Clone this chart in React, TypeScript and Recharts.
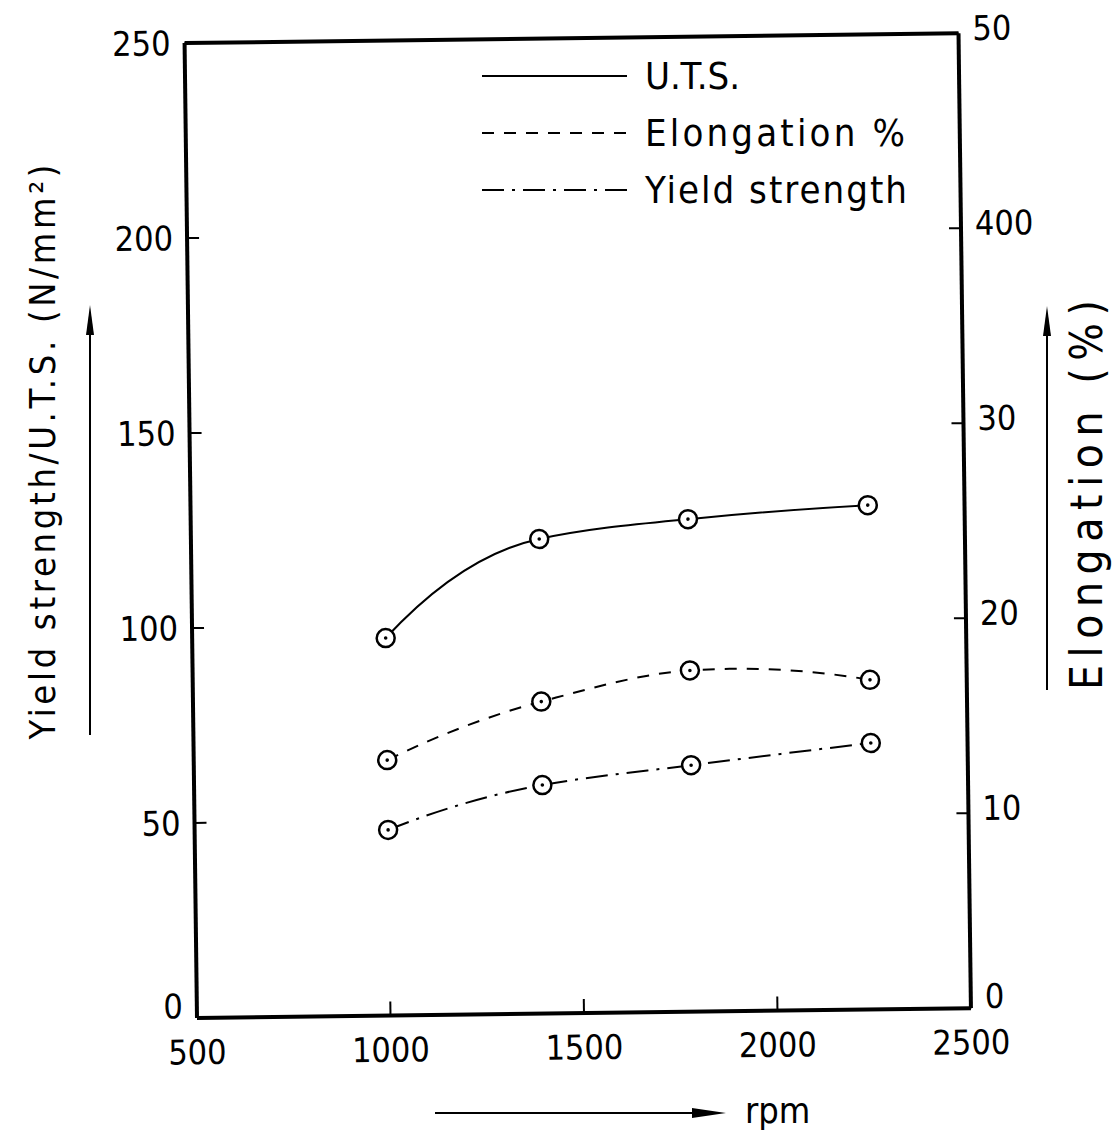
import { LineChart, Line, XAxis, YAxis, ReferenceLine } from 'recharts';

// rpm values where the samples were taken
const rpm = [1000, 1400, 1785, 2250];
// N/mm2
const uts = [96.8, 121.7, 126.3, 129.3];
const yieldStrength = [47.6, 58.6, 63.2, 68.3];
// percent
const elongation = [13.1, 16.0, 17.5, 16.9];

const xTicks = [500, 1000, 1500, 2000, 2500];
const leftTicks = [0, 50, 100, 150, 200, 250];
const rightTicks = [0, 10, 20, 30, 40, 50];
// the scan prints "400" at the 40 mark
const rightTickLabels = ['0', '10', '20', '30', '400', '50'];

const legendItems = [
  { name: 'U.T.S.', dash: undefined, width: 95 },
  { name: 'Elongation %', dash: '12 10', width: 260 },
  { name: 'Yield strength', dash: '22 8 3 8', width: 262 },
];

const data = rpm.map((r, i) => ({
  rpm: r,
  uts: uts[i],
  yieldStrength: yieldStrength[i],
  elongation: elongation[i],
}));

const FONT = "'DejaVu Sans Condensed', 'DejaVu Sans', sans-serif";
const tickStyle = { fill: '#000', fontSize: 34, fontFamily: FONT };

// hermite spline: pchip style tangents inside (central difference where the
// slope changes sign), parabolic ends so the curves leave the first point steeply
function smoothCurve(context: any) {
  let xs: number[] = [];
  let ys: number[] = [];
  return {
    areaStart() {},
    areaEnd() {},
    lineStart() {
      xs = [];
      ys = [];
    },
    point(x: number, y: number) {
      xs.push(x);
      ys.push(y);
    },
    lineEnd() {
      const n = xs.length;
      if (!n) return;
      context.moveTo(xs[0], ys[0]);
      if (n === 1) return;
      const h: number[] = [];
      const s: number[] = [];
      for (let i = 0; i < n - 1; i++) {
        h[i] = xs[i + 1] - xs[i];
        s[i] = (ys[i + 1] - ys[i]) / h[i];
      }
      const m: number[] = [];
      if (n === 2) {
        m[0] = s[0];
        m[1] = s[0];
      } else {
        for (let i = 1; i < n - 1; i++) {
          if (s[i - 1] * s[i] > 0) {
            const w1 = 2 * h[i] + h[i - 1];
            const w2 = h[i] + 2 * h[i - 1];
            m[i] = (w1 + w2) / (w1 / s[i - 1] + w2 / s[i]);
          } else {
            m[i] = (ys[i + 1] - ys[i - 1]) / (xs[i + 1] - xs[i - 1]);
          }
        }
        m[0] = 2 * s[0] - m[1];
        m[n - 1] = 2 * s[n - 2] - m[n - 2];
      }
      for (let i = 0; i < n - 1; i++) {
        const d = h[i] / 3;
        context.bezierCurveTo(
          xs[i] + d,
          ys[i] + m[i] * d,
          xs[i + 1] - d,
          ys[i + 1] - m[i + 1] * d,
          xs[i + 1],
          ys[i + 1]
        );
      }
    },
  };
}

function Marker(props: any) {
  const { cx, cy, index } = props;
  if (cx == null || cy == null) return null;
  return (
    <g key={`m-${props.dataKey}-${index}`}>
      <circle cx={cx} cy={cy} r={9} fill="#fff" stroke="#000" strokeWidth={2.5} />
      <circle cx={cx} cy={cy} r={1.8} fill="#000" />
    </g>
  );
}

function YTick(props: any) {
  const { x, y, payload, textAnchor, side } = props;
  const v = payload.value;
  const label = side === 'right' ? rightTickLabels[rightTicks.indexOf(v)] ?? String(v) : String(v);
  // the zero labels sit a little above the corners in the scan
  const shift = v === 0 ? -12 : side === 'right' ? -5 : 0;
  return (
    <text
      x={x}
      y={y + shift}
      textAnchor={textAnchor}
      dominantBaseline="central"
      fill="#000"
      fontSize={34}
      fontFamily={FONT}
    >
      {label}
    </text>
  );
}

function Overlay() {
  return (
    <svg
      width={1116}
      height={1138}
      style={{ position: 'absolute', left: 0, top: 0, pointerEvents: 'none' }}
    >
      {/* legend */}
      {legendItems.map((it, i) => {
        const y = 76 + i * 57;
        return (
          <g key={it.name}>
            <line x1={482} x2={627} y1={y} y2={y} stroke="#000" strokeWidth={2} strokeDasharray={it.dash} />
            <text
              x={645}
              y={y}
              dominantBaseline="central"
              fontFamily={FONT}
              fontSize={38}
              textLength={it.width}
              lengthAdjust="spacing"
            >
              {it.name}
            </text>
          </g>
        );
      })}

      {/* left axis title + arrow */}
      <text
        transform="translate(42,452) rotate(-90)"
        textAnchor="middle"
        dominantBaseline="central"
        fontFamily={FONT}
        fontSize={36}
        textLength={575}
        lengthAdjust="spacing"
      >
        Yield strength/U.T.S. (N/mm²)
      </text>
      <line x1={90} x2={90} y1={735} y2={320} stroke="#000" strokeWidth={2} />
      <polygon points="90,305 94,335 86,335" fill="#000" />

      {/* right axis title + arrow */}
      <text
        transform="translate(1086,495) rotate(-90)"
        textAnchor="middle"
        dominantBaseline="central"
        fontFamily={FONT}
        fontSize={44}
        textLength={390}
        lengthAdjust="spacing"
      >
        Elongation (%)
      </text>
      <line x1={1047} x2={1047} y1={690} y2={322} stroke="#000" strokeWidth={2} />
      <polygon points="1047,306 1051,336 1043,336" fill="#000" />

      {/* x axis title + arrow */}
      <line x1={435} x2={705} y1={1113} y2={1113} stroke="#000" strokeWidth={2} />
      <polygon points="726,1113 692,1108 692,1118" fill="#000" />
      <text x={745} y={1110} dominantBaseline="central" fontFamily={FONT} fontSize={36}>
        rpm
      </text>
    </svg>
  );
}

export default function App() {
  return (
    <div style={{ position: 'absolute', left: 0, top: 0, width: 1116, height: 1138, background: '#fff' }}>
      {/* the scanned figure is tilted a little, turn about the bottom-left corner */}
      <div style={{ transform: 'rotate(-0.73deg)', transformOrigin: '197px 1018px' }}>
        <LineChart
          width={1116}
          height={1138}
          data={data}
          margin={{ top: 43, right: 45, left: 97, bottom: 60 }}
        >
          <XAxis
            dataKey="rpm"
            type="number"
            domain={[500, 2500]}
            ticks={xTicks}
            height={60}
            stroke="#000"
            axisLine={{ stroke: '#000', strokeWidth: 4 }}
            tickLine={{ stroke: '#000', strokeWidth: 2 }}
            tickSize={-14}
            tickMargin={36}
            tick={tickStyle}
            interval={0}
          />
          <YAxis
            yAxisId="left"
            domain={[0, 250]}
            ticks={leftTicks}
            width={100}
            stroke="#000"
            axisLine={{ stroke: '#000', strokeWidth: 4 }}
            tickLine={{ stroke: '#000', strokeWidth: 2 }}
            tickSize={-12}
            tickMargin={26}
            tick={(p: any) => <YTick {...p} side="left" />}
            interval={0}
          />
          <YAxis
            yAxisId="right"
            orientation="right"
            domain={[0, 50]}
            ticks={rightTicks}
            width={100}
            stroke="#000"
            axisLine={{ stroke: '#000', strokeWidth: 4 }}
            tickLine={{ stroke: '#000', strokeWidth: 2 }}
            tickSize={-12}
            tickMargin={26}
            tick={(p: any) => <YTick {...p} side="right" />}
            interval={0}
          />
          <ReferenceLine yAxisId="left" y={250} stroke="#000" strokeWidth={4} />
          <Line
            yAxisId="left"
            type={smoothCurve as any}
            dataKey="uts"
            stroke="#000"
            strokeWidth={2}
            dot={Marker}
            activeDot={false}
            isAnimationActive={false}
          />
          <Line
            yAxisId="right"
            type={smoothCurve as any}
            dataKey="elongation"
            stroke="#000"
            strokeWidth={2}
            strokeDasharray="12 10"
            dot={Marker}
            activeDot={false}
            isAnimationActive={false}
          />
          <Line
            yAxisId="left"
            type={smoothCurve as any}
            dataKey="yieldStrength"
            stroke="#000"
            strokeWidth={2}
            strokeDasharray="22 8 3 8"
            dot={Marker}
            activeDot={false}
            isAnimationActive={false}
          />
        </LineChart>
      </div>
      <Overlay />
    </div>
  );
}
